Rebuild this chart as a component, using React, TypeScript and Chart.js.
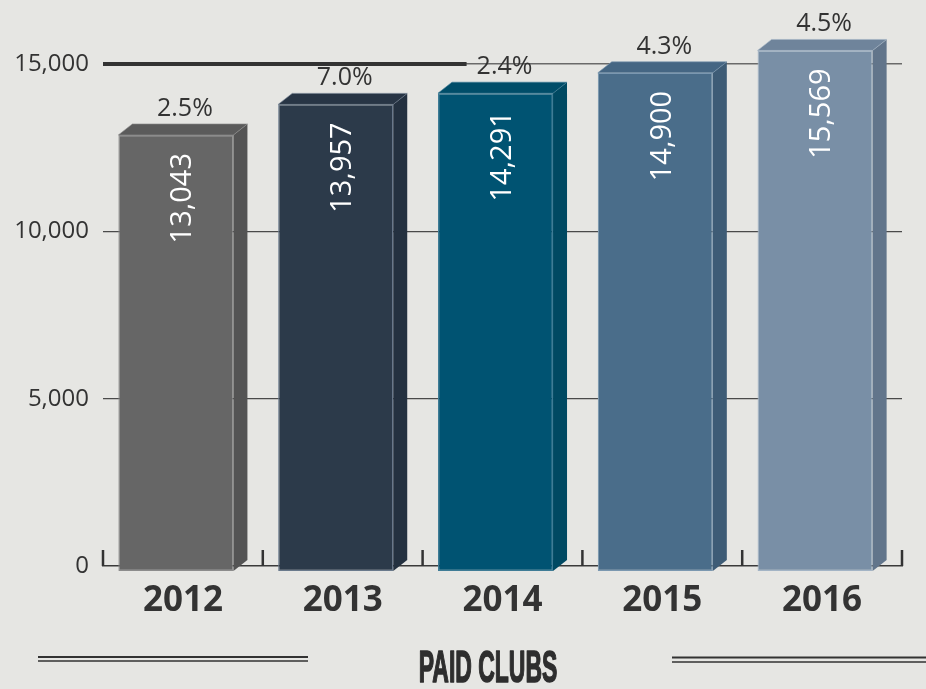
import React, { useEffect, useRef } from "react";
import { Chart, registerables } from "chart.js";

Chart.register(...registerables);

const years = ["2012", "2013", "2014", "2015", "2016"];
const paidClubs = [13043, 13957, 14291, 14900, 15569];
const growthLabels = ["2.5%", "7.0%", "2.4%", "4.3%", "4.5%"];
const yTickValues = [0, 5000, 10000, 15000];
const chartTitle = "PAID CLUBS";

const frontColors = ["#666666", "#2c3a4a", "#005372", "#4a6d8a", "#798fa6"];
const sideColors = ["#545454", "#243140", "#004962", "#3e5c76", "#62758b"];
const topColors = ["#5b5b5b", "#283545", "#004d69", "#456683", "#6f849b"];
const edgeColors = ["#8c8c8c", "#6a7a8c", "#3f7c96", "#7b98b0", "#a3b4c5"];

const DX = 14;
const DY = 11;
const BG = "#e6e6e3";
const TEXT = "#333333";

const threeDPlugin = {
  id: "threeD",
  beforeDraw(chart: any) {
    const { ctx, width, height } = chart;
    ctx.save();
    ctx.fillStyle = BG;
    ctx.fillRect(0, 0, width, height);
    ctx.restore();
  },
  afterDatasetsUpdate(chart: any) {
    // the value plane sits at mid-depth of the box: front face is moved
    // half a depth step left/down from it
    const meta = chart.getDatasetMeta(0);
    meta.data.forEach((el: any) => {
      el.x = el.x - DX / 2;
      el.y = el.y + DY / 2;
      el.base = el.base + DY / 2;
    });
  },
  beforeDatasetsDraw(chart: any) {
    const { ctx, chartArea, scales } = chart;
    const xs = scales.x;
    const ys = scales.y;
    const n = years.length;
    const cw = (chartArea.right - chartArea.left) / n;
    ctx.save();
    ctx.strokeStyle = "#333333";
    ctx.lineWidth = 2.5;
    for (let i = 0; i <= n; i++) {
      const bx = i < n ? xs.getPixelForValue(i) - cw / 2 : xs.getPixelForValue(n - 1) + cw / 2;
      ctx.beginPath();
      ctx.moveTo(bx, chartArea.bottom - 16);
      ctx.lineTo(bx, chartArea.bottom);
      ctx.stroke();
    }
    ctx.font = "25px 'Open Sans'";
    const lw = ctx.measureText(growthLabels[2]).width;
    const endX = xs.getPixelForValue(2) + 2 - lw / 2 - 10;
    const y15 = ys.getPixelForValue(15000);
    ctx.strokeStyle = "#333333";
    ctx.lineWidth = 4;
    ctx.beginPath();
    ctx.moveTo(chartArea.left, y15);
    ctx.lineTo(endX, y15);
    ctx.stroke();
    ctx.restore();
  },
  afterDatasetsDraw(chart: any) {
    const { ctx } = chart;
    const meta = chart.getDatasetMeta(0);
    ctx.save();
    meta.data.forEach((el: any, i: number) => {
      const left = el.x - el.width / 2;
      const right = el.x + el.width / 2;
      const top = el.y;
      const base = el.base;
      ctx.fillStyle = sideColors[i];
      ctx.beginPath();
      ctx.moveTo(right, top);
      ctx.lineTo(right + DX, top - DY);
      ctx.lineTo(right + DX, base - DY);
      ctx.lineTo(right, base);
      ctx.closePath();
      ctx.fill();
      ctx.fillStyle = topColors[i];
      ctx.beginPath();
      ctx.moveTo(left, top);
      ctx.lineTo(left + DX, top - DY);
      ctx.lineTo(right + DX, top - DY);
      ctx.lineTo(right, top);
      ctx.closePath();
      ctx.fill();
      ctx.strokeStyle = edgeColors[i];
      ctx.lineWidth = 1;
      ctx.globalAlpha = 0.6;
      ctx.stroke();
      ctx.globalAlpha = 1;

      const cx = el.x + DX / 2;
      ctx.fillStyle = TEXT;
      ctx.font = "25px 'Open Sans'";
      ctx.textAlign = "center";
      ctx.textBaseline = "alphabetic";
      ctx.fillText(growthLabels[i], cx + 2, top - DY - 8);
      ctx.save();
      ctx.translate(cx, top);
      ctx.rotate(-Math.PI / 2);
      ctx.fillStyle = "#ffffff";
      ctx.font = "29px 'Open Sans'";
      ctx.textAlign = "right";
      ctx.textBaseline = "middle";
      ctx.fillText(paidClubs[i].toLocaleString("en-US"), -18, 0);
      ctx.restore();
    });
    ctx.restore();
  },
  afterDraw(chart: any) {
    const { ctx, width } = chart;
    ctx.save();
    ctx.fillStyle = "#2e2e2e";
    ctx.strokeStyle = "#2e2e2e";
    ctx.lineWidth = 1.6;
    ctx.lineJoin = "round";
    ctx.font = "bold 45px 'Liberation Sans Narrow', 'Liberation Sans', sans-serif";
    ctx.textAlign = "center";
    ctx.textBaseline = "alphabetic";
    ctx.translate(488, 682);
    ctx.scale(0.51, 1);
    ctx.fillText(chartTitle, 0, 0);
    ctx.strokeText(chartTitle, 0, 0);
    ctx.restore();
    ctx.save();
    ctx.strokeStyle = "#333333";
    ctx.lineWidth = 2;
    ctx.beginPath();
    ctx.moveTo(38, 657);
    ctx.lineTo(308, 657);
    ctx.moveTo(672, 657.5);
    ctx.lineTo(width, 657.5);
    ctx.stroke();
    ctx.lineWidth = 1.3;
    ctx.beginPath();
    ctx.moveTo(38, 661);
    ctx.lineTo(308, 661);
    ctx.moveTo(672, 662);
    ctx.lineTo(width, 662);
    ctx.stroke();
    ctx.restore();
  },
};

export default function App() {
  const canvasRef = useRef<HTMLCanvasElement | null>(null);

  useEffect(() => {
    document.body.style.margin = "0";
    const canvas = canvasRef.current;
    if (!canvas) return;
    const chart = new Chart(canvas, {
      type: "bar",
      data: {
        labels: years,
        datasets: [
          {
            label: "Paid clubs",
            data: paidClubs,
            backgroundColor: frontColors,
            borderColor: edgeColors,
            borderWidth: 1.2,
            borderSkipped: false,
            barPercentage: 0.72,
            categoryPercentage: 1,
            clip: false,
          },
        ],
      },
      options: {
        responsive: false,
        animation: false,
        devicePixelRatio: 1,
        layout: { padding: { top: 30.5, right: 24, bottom: 0, left: 0 } },
        plugins: {
          legend: { display: false },
          tooltip: { enabled: false },
          title: { display: false },
        },
        scales: {
          x: {
            grid: { display: false, drawTicks: false },
            border: { display: true, color: "#3a3a3a", width: 1.5 },
            ticks: {
              color: TEXT,
              font: { family: "'Open Sans'", size: 35, weight: "bold" },
              padding: 14,
              maxRotation: 0,
            },
            afterFit(scale: any) {
              scale.height = 123;
            },
          },
          y: {
            min: 0,
            max: 16000,
            grid: {
              drawTicks: false,
              color: (c: any) =>
                c.tick && c.tick.value === 0
                  ? "rgba(0,0,0,0)"
                  : c.tick && c.tick.value === 15000
                  ? "#6a6a6a"
                  : "#4a4a4a",
              lineWidth: (c: any) => (c.tick && c.tick.value === 15000 ? 1.5 : 1.2),
            },
            border: { display: false },
            ticks: {
              color: TEXT,
              font: { family: "'Open Sans'", size: 24 },
              padding: 14,
              callback: (v: any) => Number(v).toLocaleString("en-US"),
            },
            afterBuildTicks(scale: any) {
              scale.ticks = yTickValues.map((v) => ({ value: v }));
            },
            afterFit(scale: any) {
              scale.width = 103;
            },
          },
        },
      },
      plugins: [threeDPlugin],
    } as any);
    return () => chart.destroy();
  }, []);

  return (
    <div style={{ position: "fixed", left: 0, top: 0, width: 926, height: 689 }}>
      <canvas ref={canvasRef} width={926} height={689} />
    </div>
  );
}
